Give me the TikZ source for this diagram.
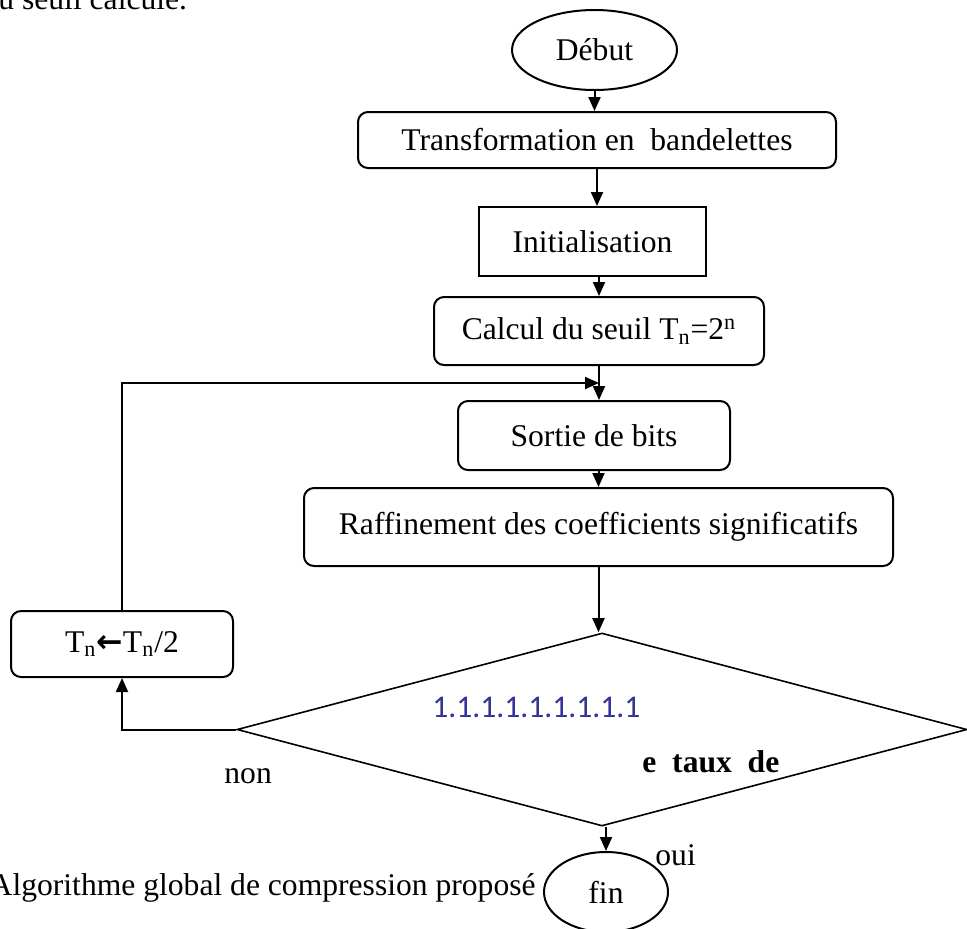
\documentclass[tikz,border=0pt]{standalone}
\usepackage{fontspec}
\setmainfont{Liberation Serif}
\newfontfamily\calibri{Carlito}
\newfontfamily\dejavu{DejaVu Sans}
\usetikzlibrary{shapes.geometric,arrows.meta}
\definecolor{numblue}{RGB}{51,51,153}
\tikzset{
  every node/.style={font=\fontsize{15.8pt}{19pt}\selectfont},
  box/.style={draw,line width=1pt,rounded corners=5pt,inner sep=0pt},
  sqbox/.style={draw,line width=1pt,inner sep=0pt},
  term/.style={draw,ellipse,line width=1pt,inner sep=0pt},
  test/.style={draw,diamond,line width=0.8pt,inner sep=0pt},
  lbl/.style={anchor=base west,inner sep=0pt},
  arr/.style={line width=1pt,-{Triangle[length=7pt,width=6pt]}}
}
\begin{document}
\begin{tikzpicture}[x=0.5pt,y=-0.5pt]
      \useasboundingbox (0,0) rectangle (967,928);
      % texts of the page around the chart
      \node[lbl] (haut) at (-2,9.5) {u seuil calculé.};
      \node[anchor=base east,inner sep=0pt] (legende) at (536,895) {Algorithme global de compression proposé};
      % blocks
      \node[term,minimum width=82.5pt,minimum height=40pt] (debut) at (594.5,50) {Début};
      \node[box,minimum width=239pt,minimum height=28pt] (transfo) at (597,140) {Transformation en\ \ bandelettes};
      \node[sqbox,minimum width=113.5pt,minimum height=34.5pt] (init) at (592.5,241.5) {Initialisation};
      \node[box,minimum width=165pt,minimum height=34pt] (calcul) at (599,331) {Calcul du seuil T\textsubscript{n}=2\textsuperscript{n}};
      \node[box,minimum width=136pt,minimum height=34.5pt] (sortie) at (594,435.5) {Sortie de bits};
      \node[box,minimum width=294.5pt,minimum height=39pt] (raffin) at (598.5,527) {Raffinement des coefficients significatifs};
      \node[box,minimum width=111pt,minimum height=33pt] (tn) at (122,644) {T\textsubscript{n}{\dejavu\bfseries ←}T\textsubscript{n}/2};
      \node[test,minimum width=365pt,minimum height=96.5pt] (test) at (602,729.5) {};
      \node[term,minimum width=62pt,minimum height=40pt] (fin) at (606,892) {fin};
      % texts of the test
      \node[lbl,text=numblue,font=\calibri\fontsize{15.8pt}{19pt}\selectfont] (num) at (432,717) {1.1.1.1.1.1.1.1.1};
      \node[lbl,font=\bfseries\fontsize{15.8pt}{19pt}\selectfont] (taux) at (642,772) {e\ \ taux\ \ de};
      \node[lbl] (non) at (224,783) {non};
      \node[lbl] (oui) at (655,865) {oui};
      % arrows
      \draw[arr] (debut.south) -- (debut.south |- transfo.north);
      \draw[arr] (transfo.south) -- (transfo.south |- init.north);
      \draw[arr] (calcul.north |- init.south) -- (calcul.north);
      \draw[arr] (calcul.south) -- coordinate (join) (calcul.south |- sortie.north);
      \draw[arr] (raffin.north |- sortie.south) -- (raffin.north);
      \draw[arr] (raffin.south) -- (raffin.south |- test.north);
      \draw[arr] (fin.north |- test.south) -- (fin.north);
      % loop back
      \draw[arr] (tn.north) |- (join);
      \draw[arr] (test.west) -| (tn.south);
    \end{tikzpicture}
\end{document}
